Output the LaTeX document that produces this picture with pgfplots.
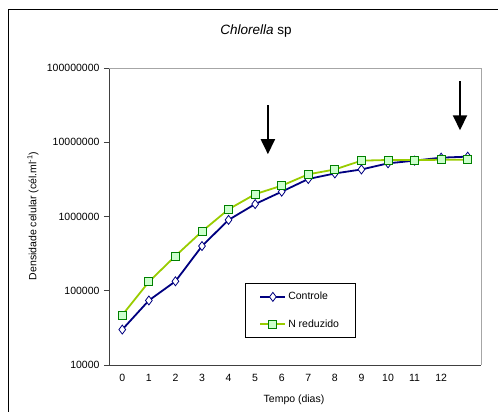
\documentclass[border=0pt]{standalone}
\usepackage{pgfplots}
\pgfplotsset{compat=1.18}
\usepackage{fontspec}
\setmainfont{Liberation Sans}
\usetikzlibrary{arrows.meta}
\definecolor{navyc}{HTML}{000080}
\definecolor{limec}{HTML}{99CC00}
\definecolor{sqfill}{HTML}{CCFFCC}
\definecolor{sqedge}{HTML}{008000}
\begin{document}
\begin{tikzpicture}[x=1pt,y=1pt]
\useasboundingbox (0,0) rectangle (498,412);
\draw[line width=1pt] (8,0) -- (8,402) -- (498,402);
\node[font=\fontsize{13.5}{15}\selectfont] at (256,381) {\textit{Chlorella} sp};
\node[font=\fontsize{10.5}{12}\selectfont, rotate=90] at (33,196) {Densidade celular (cél.ml\textsuperscript{-1})};
\node[font=\fontsize{10.5}{12}\selectfont] at (294,12) {Tempo (dias)};
\begin{axis}[
  at={(109pt,47pt)}, anchor=south west,
  scale only axis, width=372pt, height=297pt,
  ymode=log, ymin=1e4, ymax=1e8,
  xmin=-0.5, xmax=13.5,
  axis lines*=left,
  axis line style={line width=0.8pt, draw=black!75},
  ytick={1e4,1e5,1e6,1e7,1e8},
  yticklabels={10000,100000,1000000,10000000,100000000},
  yminorticks=false,
  xtick={0,...,12},
  xticklabels={0,1,2,3,4,5,6,7,8,9,10,11,12},
  extra x ticks={-0.5,0.5,...,13.5},
  extra x tick labels={},
  extra x tick style={major tick length=5pt, tick align=outside, tick style={line width=0.8pt, black!75}},
  major tick length=5pt,
  tick align=outside,
  x tick style={draw=none},
  y tick style={line width=0.8pt, black!75},
  ticklabel style={font=\fontsize{10.5}{12}\selectfont},
  /pgf/number format/assume math mode=true,
  xticklabel style={yshift=-1pt},
  yticklabel style={xshift=-1pt},
  clip=false,
  legend style={at={(rel axis cs:0.366,0.276)}, anchor=north west,
    draw=black, line width=0.6pt, font=\fontsize{10.5}{12}\selectfont,
    inner xsep=14pt, inner ysep=7pt, row sep=14pt, fill=white},
  legend cell align=left,
  legend image code/.code={\draw[mark repeat=2,mark phase=2,#1] plot coordinates {(0pt,0pt) (12.5pt,0pt) (25pt,0pt)};},
]
\draw[gray!70, line width=0.8pt] (rel axis cs:0,1) -- (rel axis cs:1,1) -- (rel axis cs:1,0);
\addplot[color=navyc, line width=1.8pt, mark=diamond*, mark size=4.5pt,
  mark options={fill=white, draw=navyc, line width=0.8pt}]
  coordinates {(0,30000) (1,74000) (2,134000) (3,400000) (4,900000) (5,1470000)
  (6,2160000) (7,3200000) (8,3800000) (9,4300000) (10,5200000) (11,5650000)
  (12,6200000) (13,6400000)};
\addlegendentry{Controle}
\addplot[color=limec, line width=1.8pt, mark=square*, mark size=4pt,
  mark options={fill=sqfill, draw=sqedge, line width=0.8pt}]
  coordinates {(0,47000) (1,132000) (2,294000) (3,630000) (4,1250000) (5,2000000)
  (6,2600000) (7,3700000) (8,4300000) (9,5650000) (10,5770000) (11,5770000)
  (12,5800000) (13,5800000)};
\addlegendentry{N reduzido}
\draw[line width=2pt, -{Triangle[length=15pt, width=14pt]}] (axis cs:5.48,3.16e7) -- (axis cs:5.48,6.9e6);
\draw[line width=2pt, -{Triangle[length=15pt, width=14pt]}] (axis cs:12.71,6.68e7) -- (axis cs:12.71,1.45e7);
\end{axis}
\end{tikzpicture}
\end{document}
